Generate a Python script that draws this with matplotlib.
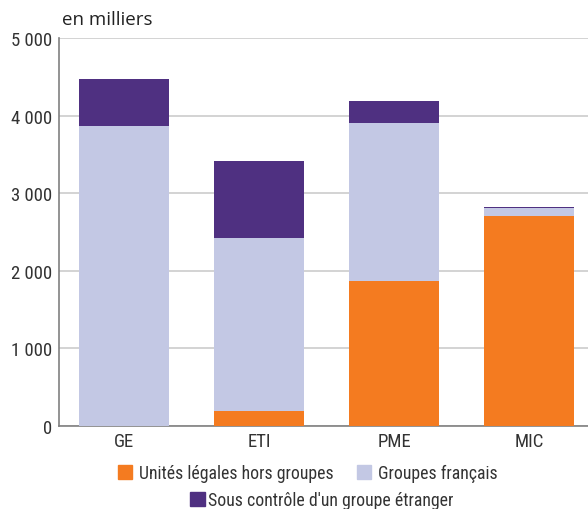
import matplotlib
matplotlib.use('Agg')
import matplotlib.pyplot as plt
from matplotlib.patches import Patch

plt.rcParams['font.family'] = ['Roboto Condensed', 'Archivo Narrow', 'DejaVu Sans']

categories = ['GE', 'ETI', 'PME', 'MIC']
hors_groupes = [0, 193, 1869, 2706]
groupes_fr = [3866, 2230, 2036, 103]
etranger = [605, 992, 283, 13]

series_labels = ['Unités légales hors groupes', 'Groupes français',
                 "Sous contrôle d'un groupe étranger"]
colors = ['#F47B20', '#C3C8E4', '#4F3081']
yticks = [0, 1000, 2000, 3000, 4000, 5000]
ytick_labels = ['0', '1 000', '2 000', '3 000', '4 000', '5 000']

fig = plt.figure(figsize=(5.88, 5.10), dpi=100)
ax = fig.add_axes([59 / 588, 83 / 510, 535.5 / 588, 388 / 510])

x = range(len(categories))
bottom2 = [a + b for a, b in zip(hors_groupes, groupes_fr)]
ax.bar(x, hors_groupes, width=0.667, color=colors[0], zorder=3)
ax.bar(x, groupes_fr, width=0.667, bottom=hors_groupes, color=colors[1], zorder=3)
ax.bar(x, etranger, width=0.667, bottom=bottom2, color=colors[2], zorder=3)

ax.set_xlim(-0.485, 3.485)
ax.set_ylim(0, 5000)
ax.set_yticks(yticks)
ax.set_yticklabels(ytick_labels)
ax.set_xticks(list(x))
ax.set_xticklabels(categories)
ax.yaxis.grid(True, color='#cccccc', linewidth=1.2, zorder=0)
ax.tick_params(axis='y', length=0, pad=5, labelsize=13.5, labelcolor='#333333')
ax.tick_params(axis='x', length=0, pad=4, labelsize=13.5, labelcolor='#333333')
for s in ['top', 'right']:
    ax.spines[s].set_visible(False)
for s in ['left', 'bottom']:
    ax.spines[s].set_color('#808080')
    ax.spines[s].set_linewidth(1.2)

fig.text(62 / 588, 1 - 20 / 510, 'en milliers', fontsize=13.5, color='#222222',
         va='center', ha='left', family=['Open Sans', 'DejaVu Sans'])

h = [Patch(color=c) for c in colors]
fig.legend(h[:2], series_labels[:2], ncol=2, loc='center',
           bbox_to_anchor=(308 / 588, 1 - 474 / 510), frameon=False,
           fontsize=12.8, handlelength=0.8, handleheight=0.8,
           handletextpad=0.4, columnspacing=1.3, labelcolor='#333333')
fig.legend(h[2:], series_labels[2:], loc='center',
           bbox_to_anchor=(322 / 588, 1 - 501 / 510), frameon=False,
           fontsize=12.8, handlelength=0.8, handleheight=0.8,
           handletextpad=0.2, labelcolor='#333333')

fig.savefig('out.png', dpi=100)
